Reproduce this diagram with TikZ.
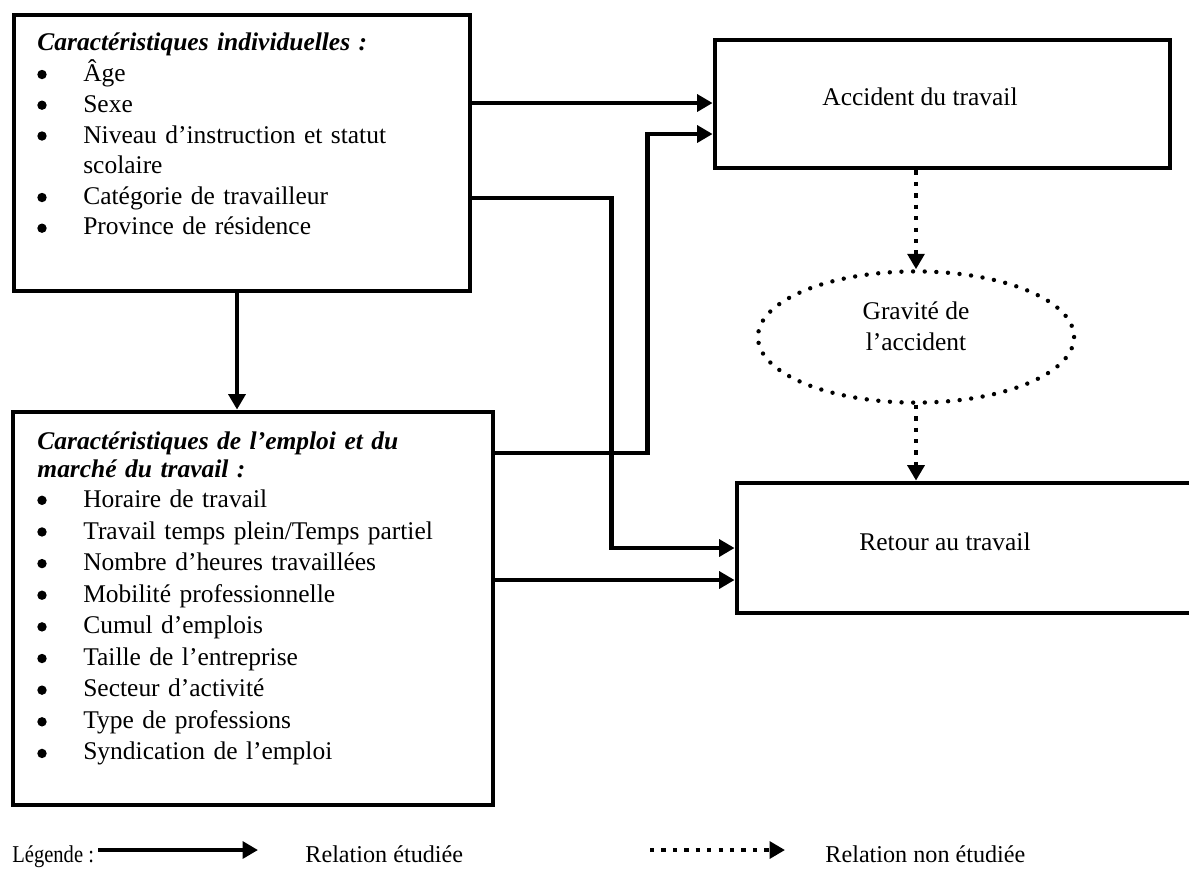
\documentclass[tikz,border=0pt]{standalone}
\usepackage{fontspec}
\setmainfont{Liberation Serif}
\usetikzlibrary{arrows.meta,shapes.geometric,fit}
\newcommand\puce{\hspace*{20.9pt}}
\begin{document}
\begin{tikzpicture}[x=0.016cm, y=-0.016cm,
  font=\fontsize{11.6}{13.95}\selectfont,
  boite/.style={draw, line width=2.2pt, inner sep=0pt},
  liste/.style={anchor=base west, inner sep=0pt, text width=8cm, align=left},
  legende/.style={anchor=base west, inner sep=0pt, font=\fontsize{11}{13}\selectfont},
  rel/.style={line width=2pt, -{Triangle[length=7pt,width=7.6pt]}},
  nonrel/.style={line width=2pt, dash pattern=on 2pt off 3.2pt, -{Triangle[length=7pt,width=7.6pt]}},
  pointille/.style={draw, line width=2pt, line cap=round, dash pattern=on 0pt off 5.3pt}]
\useasboundingbox (0,0) rectangle (1189,869);
%\draw[help lines, step=50] (0,0) grid (1189,869);

\node[boite, fit={(14,15) (470,291)}] (indiv) {};
\node[liste] (tindiv) at (37,50.5) {\textbf{\textit{Caractéristiques individuelles :}}\\[0.3pt]
  \puce Âge\\ \puce Sexe\\ \puce Niveau d’instruction et statut\\ \puce scolaire\\
  \puce Catégorie de travailleur\\ \puce Province de résidence};
\foreach \y in {74.5,105.2,136,197.5,228.2}
  \fill (42,\y) circle [radius=4.7];

\node[boite, fit={(13,412) (493,805)}] (emploi) {};
\node[liste, font=\fontsize{11.6}{14.35}\selectfont] (temploi) at (37,449.5)
  {\textbf{\textit{Caractéristiques de l’emploi et du}}\\[-1.5pt]
  \textbf{\textit{marché du travail :}}\\[-0.75pt]
  \puce Horaire de travail\\ \puce Travail temps plein/Temps partiel\\
  \puce Nombre d’heures travaillées\\ \puce Mobilité professionnelle\\
  \puce Cumul d’emplois\\ \puce Taille de l’entreprise\\ \puce Secteur d’activité\\
  \puce Type de professions\\ \puce Syndication de l’emploi};
\foreach \i in {0,...,8}
  \fill (42,500.3+31.64*\i) circle [radius=4.7];

\node[boite, fit={(715,40) (1170,168)}] (acc) {};
\node (tacc) at (920,97) {Accident du travail};
\node[boite, fit={(737,483) (1205,613)}] (ret) {};
\node (tret) at (945,542) {Retour au travail};
\node[pointille, ellipse, minimum width=5.06cm, minimum height=2.1cm, inner sep=0pt,
  align=center] (grav) at (916,337) {Gravité de\\l’accident\\[-4pt]};

\draw[rel] (indiv.east |- 0,103) -- (acc.west |- 0,103);
\draw[rel] (emploi.east |- 0,453) -- ++(152,0) |- (acc.west |- 0,134);
\draw[rel] (indiv.east |- 0,198) -- ++(139,0) |- (ret.west |- 0,548);
\draw[rel] (emploi.east |- 0,580) -- (ret.west |- 0,580);
\draw[rel] (indiv.south -| 237,0) -- (emploi.north -| 237,0);
\draw[nonrel] (acc.south -| grav.north) -- (grav.north);
\draw[nonrel] (grav.south) -- (ret.north -| grav.south);

% legende
\node[legende] (leg) at (12,862) {\scalebox{0.85}[1]{Légende :}};
\node[legende] (etud) at (305,862) {Relation étudiée};
\node[legende] (nonetud) at (825,862) {Relation non étudiée};
\coordinate (l1) at (98,850); \coordinate (l2) at (258,850);
\coordinate (l3) at (650,850); \coordinate (l4) at (785,850);
\draw[rel] (l1) -- (l2);
\draw[nonrel] (l3) -- (l4);
\end{tikzpicture}
\end{document}
